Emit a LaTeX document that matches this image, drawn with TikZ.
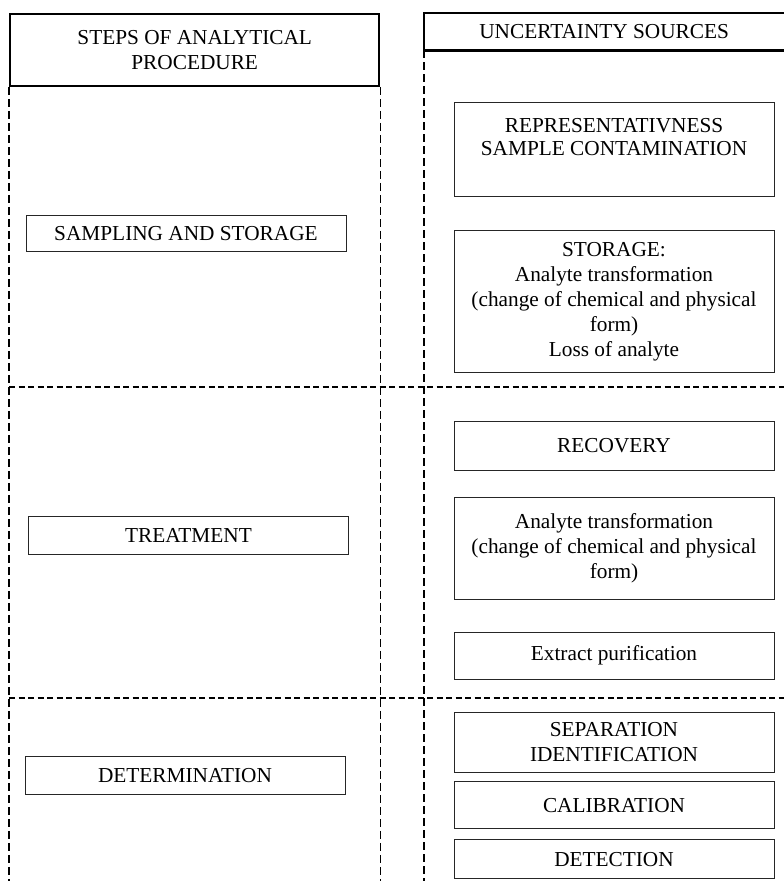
\documentclass[tikz,border=0pt]{standalone}
\usepackage{fontspec}
\setmainfont{Liberation Serif}
\usepackage{tikz}
\usetikzlibrary{positioning}
\newcommand\cellfont{\fontsize{21.3}{25}\selectfont}
\tikzset{
  cell/.style={
    rectangle, draw=black!85, line width=0.9pt,
    align=center, font=\cellfont, inner sep=3pt
  },
  lcell/.style={cell, minimum width=320pt, minimum height=38pt},
  rcell/.style={cell, minimum width=320pt},
  hdr/.style={rectangle, align=center, font=\cellfont, inner sep=3pt},
  hdrline/.style={line width=2.4pt},
  vsep/.style={line width=1.2pt, dash pattern=on 8pt off 4pt},
  hsep/.style={line width=1.2pt, dash pattern=on 6pt off 3.5pt}
}

\begin{document}
\begin{tikzpicture}[x=1pt, y=1pt]
  \useasboundingbox (0,0) rectangle (784,-881);

  % headers
  \node[hdr, draw, hdrline, minimum width=369pt, minimum height=72pt,
        anchor=north west] (steps) at (9,-12.5) {STEPS OF ANALYTICAL\\PROCEDURE};
  \node[hdr, minimum width=360pt, minimum height=37pt,
        anchor=north west] (usrc) at (424,-13) {UNCERTAINTY SOURCES};
  \draw[hdrline] (usrc.north east) -- (usrc.north west)
                 -- (usrc.south west) -- (usrc.south east);

  \coordinate (bottom) at (0,-881);
  \coordinate (rowA)   at (0,-387);
  \coordinate (rowB)   at (0,-698);

  % grid
  \draw[vsep] (steps.south west) -- (steps.south west |- bottom);
  \draw[vsep] (steps.south east) -- (steps.south east |- bottom);
  \draw[vsep] (usrc.south west)  -- (usrc.south west |- bottom);
  \draw[hsep] (steps.south west |- rowA) -- (usrc.east |- rowA);
  \draw[hsep] (steps.south west |- rowB) -- (usrc.east |- rowB);

  % steps
  \node[lcell, minimum height=36pt] (samp) at (186,-233.5) {SAMPLING AND STORAGE};
  \node[lcell] (treat) at (188.5,-535)   {TREATMENT};
  \node[lcell] (det)   at (185,-775.5)   {DETERMINATION};

  % sources
  \node[rcell, minimum height=94pt, anchor=north] (repr) at (614,-102)
       {REPRESENTATIVNESS\\[-2pt]SAMPLE CONTAMINATION\\\mbox{}};
  \node[rcell, minimum height=142pt, below=33pt of repr] (stor)
       {STORAGE:\\Analyte transformation\\(change of chemical and physical\\form)\\Loss of analyte};
  \node[rcell, minimum height=49pt, below=48pt of stor] (recov) {RECOVERY};
  \node[rcell, minimum height=102pt, below=26pt of recov] (antr)
       {Analyte transformation\\(change of chemical and physical\\form)};
  \node[rcell, minimum height=47pt, below=32pt of antr] (extr) {Extract purification};
  \node[rcell, minimum height=60pt, below=32pt of extr] (sepid) {SEPARATION\\IDENTIFICATION};
  \node[rcell, minimum height=47pt, below=9pt of sepid] (calib) {CALIBRATION};
  \node[rcell, minimum height=39pt, below=10pt of calib] (detect) {DETECTION};
\end{tikzpicture}
\end{document}
